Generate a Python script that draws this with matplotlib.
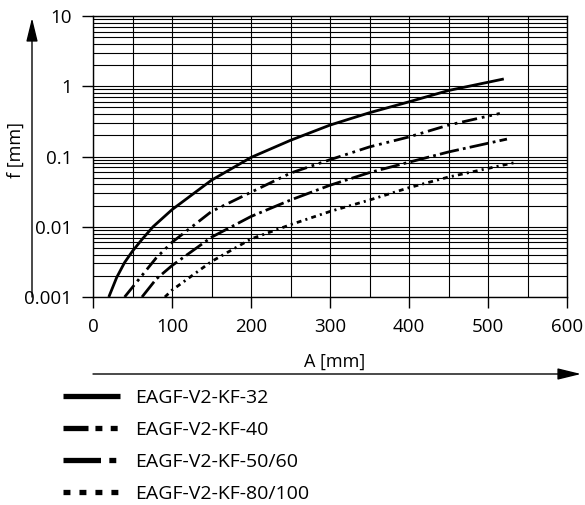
#!/usr/bin/env python3
# -*- coding: utf-8 -*-
"""Flexion f en fonction de la longueur A pour les guides EAGF-V2-KF."""

import matplotlib as mpl
import matplotlib.pyplot as plt
from matplotlib.lines import Line2D
from matplotlib.ticker import FixedLocator, LogLocator, NullFormatter

mpl.rcParams["font.family"] = ["Open Sans", "DejaVu Sans"]
mpl.rcParams["font.size"] = 13.5
mpl.rcParams["lines.scale_dashes"] = False

# donnees
a_32 = [20, 30, 40, 50, 62, 76, 100, 150, 200, 250, 300, 350, 400, 450, 520]
f_32 = [0.001, 0.0019, 0.0031, 0.0045, 0.0066, 0.01, 0.0175, 0.046, 0.097,
        0.17, 0.28, 0.42, 0.6, 0.87, 1.27]

a_40 = [40, 60, 80, 100, 150, 200, 250, 300, 350, 400, 450, 515]
f_40 = [0.001, 0.0019, 0.0036, 0.006, 0.0165, 0.031, 0.058, 0.09, 0.137,
        0.19, 0.28, 0.41]

a_50 = [62, 80, 100, 150, 200, 250, 300, 350, 400, 450, 524]
f_50 = [0.001, 0.0018, 0.0028, 0.0071, 0.014, 0.024, 0.039, 0.059, 0.083,
        0.116, 0.177]

a_80 = [91, 100, 150, 200, 250, 300, 350, 400, 450, 534]
f_80 = [0.001, 0.00125, 0.0032, 0.0067, 0.0107, 0.0165, 0.024, 0.036,
        0.051, 0.082]

labels = ["EAGF-V2-KF-32", "EAGF-V2-KF-40", "EAGF-V2-KF-50/60",
          "EAGF-V2-KF-80/100"]
x_ticks = [0, 100, 200, 300, 400, 500, 600]
y_ticks = [0.001, 0.01, 0.1, 1, 10]
y_ticklabels = ["0.001", "0.01", "0.1", "1", "10"]

# styles (en points)
curve_dashes = [None, (0, (11, 3.5, 2, 3.5, 2, 3.5)), (0, (14, 3, 2, 3)),
                (0, (3.5, 3, 1.5, 3))]
legend_dashes = [None, (0, (18, 5, 5, 6, 5, 20)), (0, (27, 6, 5, 20)),
                 (0, (5, 6.5))]

W, H = 585, 505
fig = plt.figure(figsize=(W / 100, H / 100), dpi=100)
ax = fig.add_axes([93 / W, 1 - 297 / H, (567 - 93) / W, (297 - 16) / H])

series = [(a_32, f_32), (a_40, f_40), (a_50, f_50), (a_80, f_80)]
for (a, f), ls in zip(series, curve_dashes):
    ax.plot(a, f, color="black", lw=2.0, ls=ls if ls else "-",
            solid_capstyle="butt", dash_capstyle="butt", zorder=3)

ax.set_yscale("log")
ax.set_xlim(0, 600)
ax.set_ylim(0.001, 10)
ax.xaxis.set_major_locator(FixedLocator(x_ticks))
ax.xaxis.set_minor_locator(FixedLocator(range(50, 600, 100)))
ax.set_yticks(y_ticks)
ax.set_yticklabels(y_ticklabels)
ax.yaxis.set_minor_locator(LogLocator(base=10, subs=range(2, 10)))
ax.yaxis.set_minor_formatter(NullFormatter())

ax.tick_params(which="major", direction="out", length=8, width=1,
               color="black", labelcolor="black", pad=7)
ax.tick_params(which="minor", length=0)
ax.grid(True, which="both", color="black", lw=0.8)
for sp in ax.spines.values():
    sp.set_linewidth(1.0)
    sp.set_color("black")

# axes fleches
arrow = dict(arrowstyle="-|>,head_length=0.9,head_width=0.22",
             color="black", lw=1.0, mutation_scale=16, shrinkA=0, shrinkB=0)
fig.add_artist(mpl.patches.FancyArrowPatch(
    (32 / W, 1 - 297 / H), (32 / W, 1 - 18 / H),
    transform=fig.transFigure, **arrow))
fig.add_artist(mpl.patches.FancyArrowPatch(
    (93 / W, 1 - 374 / H), (581 / W, 1 - 374 / H),
    transform=fig.transFigure, **arrow))
fig.text(16 / W, 1 - 150 / H, "f [mm]", rotation=90, ha="center",
         va="center", fontsize=13)
fig.text(335 / W, 1 - 362 / H, "A [mm]", ha="center", va="center",
         fontsize=13)

# legende
for k, (lab, ls) in enumerate(zip(labels, legend_dashes)):
    y = 1 - (396 + 32 * k) / H
    fig.add_artist(Line2D([63 / W, 120 / W], [y, y], color="black", lw=3.8,
                          ls=ls if ls else "-", solid_capstyle="butt",
                          dash_capstyle="butt", transform=fig.transFigure))
    fig.text(135 / W, y - 2 / H, lab, ha="left", va="center", fontsize=14)

fig.savefig("out.png", dpi=100)
